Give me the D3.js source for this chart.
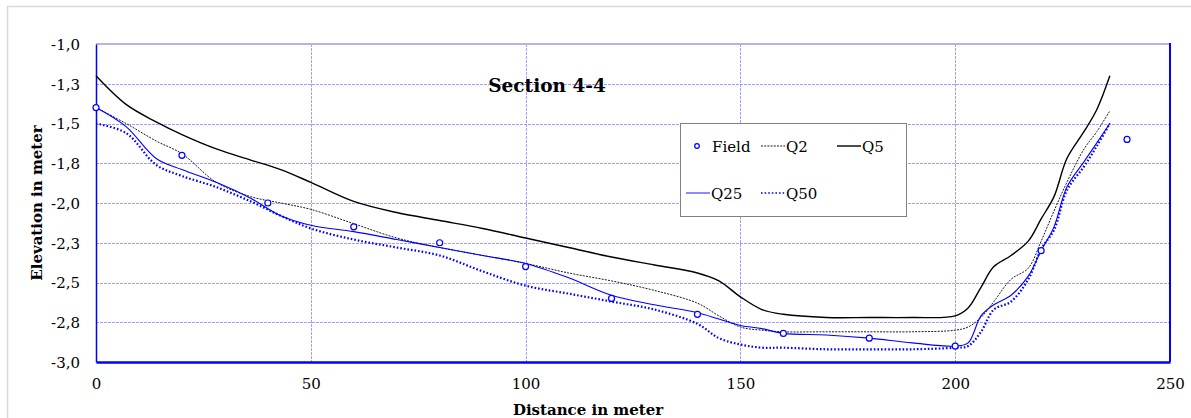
<!DOCTYPE html>
<html>
<head>
<meta charset="utf-8">
<script src="https://cdn.jsdelivr.net/npm/d3@7/dist/d3.min.js"></script>
<style>
  html, body { margin: 0; padding: 0; background: #fff; }
  svg { display: block; }
  text { font-family: "DejaVu Serif", "Liberation Serif", serif; fill: #000; }
</style>
</head>
<body>
<svg id="chart" width="1191" height="418"></svg>
<script>
// Cross-section survey stations (m) shared by the modelled water-surface series
const stations = [0, 7, 14, 20, 28, 36, 43, 50, 60, 70, 80, 90, 100, 110, 120, 130, 140, 145,
  150, 155, 160, 170, 180, 190, 200, 203, 206, 209, 213, 217, 220, 223, 226, 230, 233, 236];

const q2 = [-1.40, -1.50, -1.61, -1.69, -1.87, -1.96, -2.00, -2.04, -2.13, -2.22, -2.28, -2.33, -2.38, -2.44,
  -2.49, -2.55, -2.63, -2.71, -2.78, -2.80, -2.81, -2.81, -2.81, -2.81, -2.80, -2.78, -2.72, -2.62,
  -2.48, -2.41, -2.24, -2.05, -1.87, -1.66, -1.55, -1.42];

const q5 = [-1.20, -1.38, -1.49, -1.57, -1.66, -1.73, -1.79, -1.87, -1.99, -2.06, -2.11, -2.16, -2.22, -2.28,
  -2.34, -2.39, -2.44, -2.49, -2.59, -2.67, -2.70, -2.72, -2.72, -2.72, -2.71, -2.66, -2.53, -2.40,
  -2.33, -2.24, -2.10, -1.96, -1.72, -1.55, -1.41, -1.20];

const q25 = [-1.40, -1.52, -1.72, -1.79, -1.87, -1.97, -2.08, -2.14, -2.18, -2.23, -2.28, -2.33, -2.38, -2.47,
  -2.58, -2.64, -2.69, -2.73, -2.77, -2.79, -2.82, -2.83, -2.85, -2.88, -2.90, -2.88, -2.71, -2.64,
  -2.58, -2.46, -2.30, -2.15, -1.90, -1.74, -1.62, -1.50];

const q50 = [-1.50, -1.56, -1.76, -1.83, -1.90, -1.99, -2.08, -2.16, -2.23, -2.28, -2.33, -2.43, -2.52, -2.57,
  -2.62, -2.67, -2.76, -2.85, -2.89, -2.91, -2.91, -2.92, -2.92, -2.92, -2.91, -2.90, -2.81, -2.67,
  -2.62, -2.48, -2.29, -2.17, -1.92, -1.77, -1.64, -1.50];

// Measured bed points
const fieldDist = [0, 20, 40, 60, 80, 100, 120, 140, 160, 180, 200, 220, 240];
const fieldElev = [-1.40, -1.70, -2.00, -2.15, -2.25, -2.40, -2.60, -2.70, -2.82, -2.85, -2.90, -2.30, -1.60];

// Axis ticks and their printed labels (comma decimal)
const xTicks = [0, 50, 100, 150, 200, 250];
const yTicks = [-1.0, -1.25, -1.5, -1.75, -2.0, -2.25, -2.5, -2.75, -3.0];
const yTickLabels = ["-1,0", "-1,3", "-1,5", "-1,8", "-2,0", "-2,3", "-2,5", "-2,8", "-3,0"];

const svg = d3.select("#chart");
const plot = { left: 96, right: 1170, top: 44, bottom: 362 };

const x = d3.scaleLinear().domain([0, 250]).range([plot.left, plot.right]);
const y = d3.scaleLinear().domain([-3, -1]).range([plot.bottom, plot.top]);

// Outer chart frame
svg.append("rect")
  .attr("x", 7.5).attr("y", 6.5).attr("width", 1200).attr("height", 440)
  .attr("fill", "#fff").attr("stroke", "#d9d9d9").attr("stroke-width", 1.5);

// Gridlines
const grid = svg.append("g");
grid.selectAll("line.h").data(yTicks.slice(1, -1)).join("line")
  .attr("x1", plot.left).attr("x2", plot.right)
  .attr("y1", d => Math.round(y(d)) + 0.5).attr("y2", d => Math.round(y(d)) + 0.5)
  .attr("stroke", "#7f7fff").attr("stroke-opacity", 0.75).attr("stroke-dasharray", "3,1");
grid.selectAll("line.v").data(xTicks.slice(1, -1)).join("line")
  .attr("y1", plot.top).attr("y2", plot.bottom)
  .attr("x1", d => Math.round(x(d)) + 0.5).attr("x2", d => Math.round(x(d)) + 0.5)
  .attr("stroke", "#7f7fff").attr("stroke-opacity", 0.75).attr("stroke-dasharray", "3,1");

// Plot border: light top edge, blue on the other sides
svg.append("line").attr("x1", plot.left).attr("x2", plot.right)
  .attr("y1", plot.top).attr("y2", plot.top)
  .attr("stroke", "#b4b4dc").attr("stroke-width", 2);

// Axes
const yAxis = d3.axisLeft(y).tickValues(yTicks).tickSize(0).tickPadding(16)
  .tickFormat((d, i) => yTickLabels[i]);
const xAxis = d3.axisBottom(x).tickValues(xTicks).tickSize(0).tickPadding(16)
  .tickFormat(d3.format("d"));

const gy = svg.append("g").attr("transform", `translate(${plot.left},0)`).call(yAxis);
gy.select(".domain").attr("stroke", "#0000ff").attr("stroke-width", 1.5);
gy.selectAll("text").attr("font-size", 15).attr("font-family", "DejaVu Serif").attr("dy", "0.36em");

const gx = svg.append("g").attr("transform", `translate(0,${plot.bottom})`).call(xAxis);
gx.select(".domain").attr("stroke", "#0000ff").attr("stroke-width", 2.5);
gx.selectAll("text").attr("font-size", 15).attr("font-family", "DejaVu Serif");

svg.append("line").attr("x1", plot.right).attr("x2", plot.right)
  .attr("y1", plot.top - 1).attr("y2", plot.bottom)
  .attr("stroke", "#0000ff").attr("stroke-width", 2);

// Series
const line = d3.line().x(d => x(d[0])).y(d => y(d[1])).curve(d3.curveCatmullRom.alpha(0.5));
const pair = vals => stations.map((s, i) => [s, vals[i]]);

const series = [
  { name: "Q2", values: q2, color: "#000", width: 0.9, dash: "2,1.2" },
  { name: "Q5", values: q5, color: "#000", width: 1.4, dash: null },
  { name: "Q25", values: q25, color: "#0000ff", width: 1.1, dash: null },
  { name: "Q50", values: q50, color: "#0000ff", width: 2.2, dash: "1.6,2" }
];

svg.append("g").selectAll("path").data(series).join("path")
  .attr("d", d => line(pair(d.values)))
  .attr("fill", "none")
  .attr("stroke", d => d.color)
  .attr("stroke-width", d => d.width)
  .attr("stroke-dasharray", d => d.dash);

svg.append("g").selectAll("circle").data(fieldDist).join("circle")
  .attr("cx", (d) => x(d))
  .attr("cy", (d, i) => y(fieldElev[i]))
  .attr("r", 3)
  .attr("fill", "#fff")
  .attr("stroke", "#0000ff")
  .attr("stroke-width", 1.2);

// Title
svg.append("text").attr("x", 547).attr("y", 92).attr("text-anchor", "middle")
  .attr("font-size", 18.5).attr("font-weight", "bold").text("Section 4-4");

// Axis titles
svg.append("text").attr("x", 588).attr("y", 415).attr("text-anchor", "middle")
  .attr("font-size", 15).attr("font-weight", "bold").text("Distance in meter");
svg.append("text").attr("transform", "translate(42,203) rotate(-90)").attr("text-anchor", "middle")
  .attr("font-size", 15).attr("font-weight", "bold").text("Elevation in meter");

// Legend
const lg = svg.append("g");
lg.append("rect").attr("x", 680.5).attr("y", 123.5).attr("width", 226).attr("height", 93)
  .attr("fill", "#fff").attr("stroke", "#808080").attr("stroke-width", 1);

const legendItems = [
  { name: "Field", kind: "point", x: 697, y: 146 },
  { name: "Q2", kind: "line", x: 761, y: 146, s: series[0] },
  { name: "Q5", kind: "line", x: 837, y: 146, s: series[1] },
  { name: "Q25", kind: "line", x: 686, y: 193, s: { color: "#7070ff", width: 2, dash: null } },
  { name: "Q50", kind: "line", x: 761, y: 193, s: series[3] }
];
legendItems.forEach(it => {
  if (it.kind === "point") {
    lg.append("circle").attr("cx", it.x).attr("cy", it.y).attr("r", 2.3)
      .attr("fill", "#fff").attr("stroke", "#0000ff").attr("stroke-width", 1.2);
    lg.append("text").attr("x", it.x + 15).attr("y", it.y + 5.5).attr("font-size", 15).text(it.name);
  } else {
    lg.append("line").attr("x1", it.x).attr("x2", it.x + 24).attr("y1", it.y).attr("y2", it.y)
      .attr("stroke", it.s.color).attr("stroke-width", Math.min(it.s.width, 1.6))
      .attr("stroke-dasharray", it.s.dash);
    lg.append("text").attr("x", it.x + 25).attr("y", it.y + 5.5).attr("font-size", 15).text(it.name);
  }
});
</script>
</body>
</html>
